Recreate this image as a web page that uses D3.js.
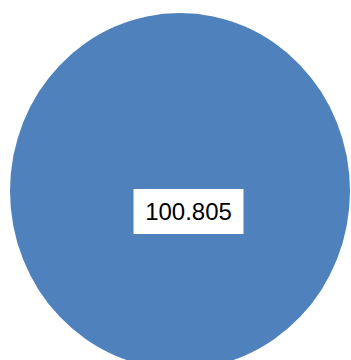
<!DOCTYPE html>
<html>
<head>
<meta charset="utf-8">
<script src="https://cdn.jsdelivr.net/npm/d3@7"></script>
<style>
  html, body { margin: 0; padding: 0; background: #ffffff; }
  svg { display: block; }
</style>
</head>
<body>
<svg id="chart" width="351" height="360"></svg>
<script>
// Single-series pie data
const categories = ["A"];
const values = [100.805];
const labels = ["100.805"];

const width = 351, height = 360;
const cx = 180, cy = 191;
const rx = 170, ry = 178;

const svg = d3.select("#chart");

const pie = d3.pie().sort(null).value(d => d)(values);
const arc = d3.arc().innerRadius(0).outerRadius(rx);

const g = svg.append("g")
  .attr("transform", `translate(${cx},${cy}) scale(1,${ry / rx})`);

g.selectAll("path")
  .data(pie)
  .join("path")
  .attr("d", arc)
  .attr("fill", "#4f81bd");

// Data label in a white box
const labelG = svg.append("g").attr("transform", "translate(188.5,211.5)");
const txt = labelG.append("text")
  .attr("text-anchor", "middle")
  .attr("dominant-baseline", "central")
  .attr("font-family", "'Liberation Sans', Arial, sans-serif")
  .attr("font-size", 24)
  .attr("fill", "#000")
  .text(labels[0]);

const bw = 110, bh = 45;
labelG.insert("rect", "text")
  .attr("x", -bw / 2)
  .attr("y", -bh / 2)
  .attr("width", bw)
  .attr("height", bh)
  .attr("fill", "#ffffff");
</script>
</body>
</html>
